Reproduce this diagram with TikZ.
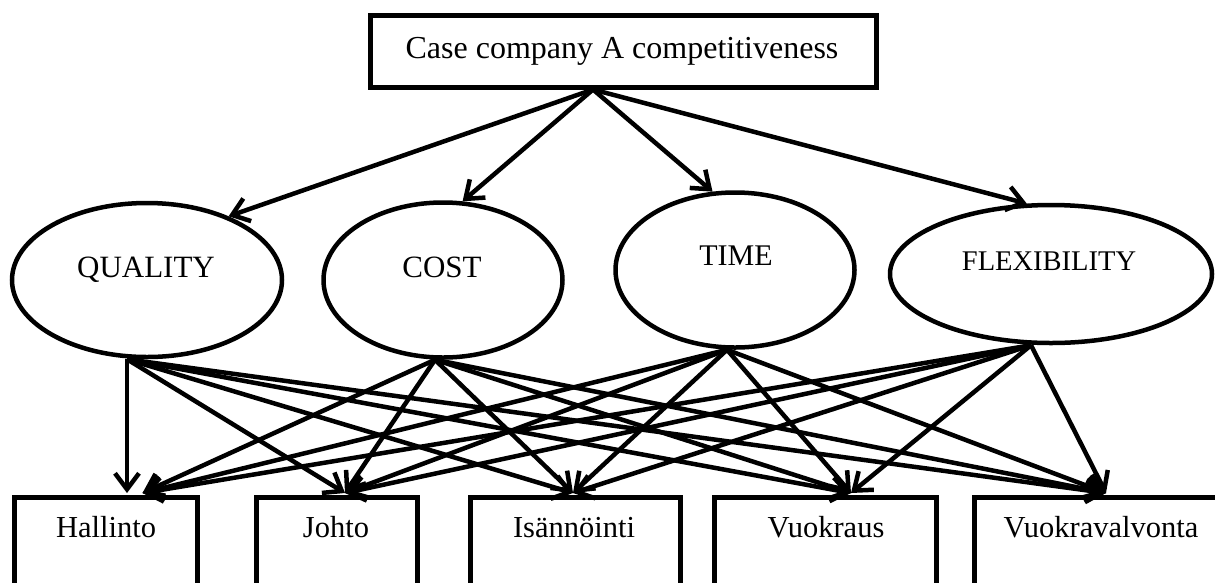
\documentclass[tikz,border=0pt]{standalone}
\usepackage{fontspec}
\setmainfont{Liberation Serif}
\usetikzlibrary{shapes.geometric,arrows.meta}

\tikzset{
  rbox/.style={draw, rectangle, line width=5pt, inner sep=0pt},
  oval/.style={draw, ellipse, line width=4.5pt, inner sep=0pt},
  lbl/.style={anchor=base, inner sep=0pt},
  arr/.style={line width=4.5pt, -{Straight Barb[length=16pt,width=24pt]}}
}

\begin{document}
\begin{tikzpicture}[x=1pt,y=-1pt]
\useasboundingbox (0,0) rectangle (1215,582);
\clip (0,0) rectangle (1215,582);

% top box
\node[rbox, minimum width=506pt, minimum height=72pt] (top) at (623,51) {};
\node[lbl, font=\fontsize{32}{38}\selectfont] (toptxt) at (622,58) {Case company A competitiveness};

% ellipses
\node[oval, minimum width=270pt, minimum height=154pt] (qual) at (147,280) {};
\node[oval, minimum width=239pt, minimum height=155pt] (cost) at (443,280) {};
\node[oval, minimum width=239pt, minimum height=155pt] (time) at (735,270) {};
\node[oval, minimum width=322pt, minimum height=138pt] (flex) at (1051,274) {};
\node[lbl, font=\fontsize{31}{37}\selectfont] (qualtxt) at (146,277) {QUALITY};
\node[lbl, font=\fontsize{31}{37}\selectfont] (costtxt) at (442,277) {COST};
\node[lbl, font=\fontsize{30}{36}\selectfont] (timetxt) at (736,265) {TIME};
\node[lbl, font=\fontsize{28.5}{34}\selectfont] (flextxt) at (1049,270) {FLEXIBILITY};

% bottom boxes
\node[rbox, anchor=north, minimum width=183pt, minimum height=130pt] (hall) at (105.5,495) {};
\node[rbox, anchor=north, minimum width=161pt, minimum height=130pt] (johto) at (336.5,495) {};
\node[rbox, anchor=north, minimum width=210pt, minimum height=130pt] (isan) at (575,495) {};
\node[rbox, anchor=north, minimum width=222pt, minimum height=130pt] (vuok) at (825,495) {};
\node[rbox, anchor=north, minimum width=254pt, minimum height=130pt] (valv) at (1101,495) {};
\node[lbl, font=\fontsize{30.5}{36}\selectfont] (halltxt) at (106,537) {Hallinto};
\node[lbl, font=\fontsize{30.5}{36}\selectfont] (johtotxt) at (336,537) {Johto};
\node[lbl, font=\fontsize{30.5}{36}\selectfont] (isantxt) at (574,537) {Isännöinti};
\node[lbl, font=\fontsize{30.5}{36}\selectfont] (vuoktxt) at (826,537) {Vuokraus};
\node[lbl, font=\fontsize{30.5}{36}\selectfont] (valvtxt) at (1101,537) {Vuokravalvonta};

% start and end points
\coordinate (apex) at ([xshift=-30pt]top.south);
\coordinate (qs) at ([xshift=-20pt]qual.south);
\coordinate (cs) at ([xshift=-8pt]cost.south);
\coordinate (ts) at ([xshift=-8pt]time.south);
\coordinate (fs) at ([xshift=-20pt]flex.south);
\coordinate (hv) at ([xshift=21.5pt,yshift=2pt]hall.north);
\coordinate (h) at ([xshift=37pt,yshift=2pt]hall.north);
\coordinate (j) at ([xshift=8.5pt,yshift=2pt]johto.north);
\coordinate (i) at ([xshift=-2pt,yshift=2pt]isan.north);
\coordinate (v) at ([xshift=26pt,yshift=2pt]vuok.north);
\coordinate (vv) at ([xshift=5pt,yshift=2pt]valv.north);

% top level
\draw[arr] (apex) -- (qual.38);
\draw[arr] (apex) -- (cost.76);
\draw[arr] (apex) -- (time.106);
\draw[arr] (apex) -- (flex.109);

% quality
\draw[arr] (qs) -- (qs |- hv);
\draw[arr] (qs) -- (j);
\draw[arr] (qs) -- (i);
\draw[arr] (qs) -- (v);
\draw[arr] (qs) -- (vv);
% cost
\draw[arr] (cs) -- (h);
\draw[arr] (cs) -- (j);
\draw[arr] (cs) -- (i);
\draw[arr] (cs) -- (v);
\draw[arr] (cs) -- (vv);
% time
\draw[arr] (ts) -- (h);
\draw[arr] (ts) -- (j);
\draw[arr] (ts) -- (i);
\draw[arr] (ts) -- (v);
\draw[arr] (ts) -- (vv);
% flexibility
\draw[arr] (fs) -- (h);
\draw[arr] (fs) -- (j);
\draw[arr] (fs) -- (i);
\draw[arr] (fs) -- (v);
\draw[arr] (fs) -- (vv);
\end{tikzpicture}
\end{document}
